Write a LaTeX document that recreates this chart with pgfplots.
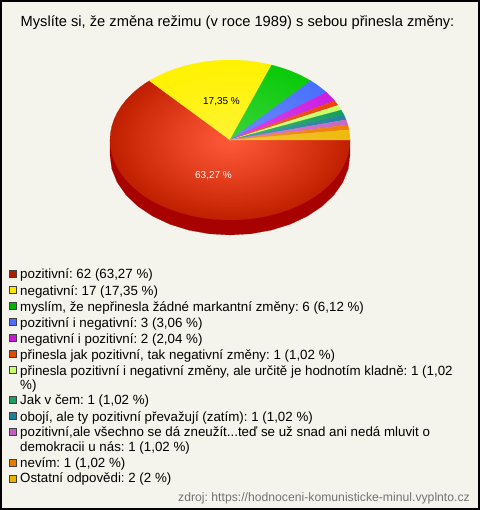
\documentclass[border=0pt]{standalone}
\usepackage{fontspec}
\setmainfont{Liberation Sans}
\usepackage{pgfplots}
\pgfplotsset{compat=1.18}
\usetikzlibrary{fadings}
\frenchspacing
\definecolor{bg}{RGB}{245,244,236}
\definecolor{c1}{RGB}{192,32,0}
\definecolor{redglow}{RGB}{255,50,10}
\definecolor{c2}{RGB}{255,242,0}
\definecolor{c3}{RGB}{10,202,10}
\definecolor{c4}{RGB}{72,112,255}
\definecolor{c5}{RGB}{204,30,224}
\definecolor{c6}{RGB}{236,66,10}
\definecolor{c7}{RGB}{198,255,104}
\definecolor{c8}{RGB}{22,160,92}
\definecolor{c9}{RGB}{34,132,154}
\definecolor{c10}{RGB}{198,104,200}
\definecolor{c11}{RGB}{240,126,6}
\definecolor{c12}{RGB}{238,186,10}
\definecolor{k1}{RGB}{176,28,0}
\definecolor{k2}{RGB}{255,230,0}
\definecolor{k3}{RGB}{0,180,0}
\definecolor{k4}{RGB}{77,111,255}
\definecolor{k5}{RGB}{200,25,216}
\definecolor{k6}{RGB}{230,74,0}
\definecolor{k7}{RGB}{196,255,110}
\definecolor{k8}{RGB}{26,160,96}
\definecolor{k9}{RGB}{26,127,155}
\definecolor{k10}{RGB}{192,96,192}
\definecolor{k11}{RGB}{232,122,0}
\definecolor{k12}{RGB}{232,180,0}
\definecolor{side}{RGB}{168,2,0}
\pgfdeclareradialshading{glowsh}{\pgfpointorigin}{color(0bp)=(pgftransparent!80); color(25bp)=(pgftransparent!100); color(50bp)=(pgftransparent!100)}
\pgfdeclarefading{glow}{\pgfuseshading{glowsh}}
\pgfdeclareradialshading{redsh}{\pgfpointorigin}{color(0bp)=(pgftransparent!0); color(25bp)=(pgftransparent!100); color(50bp)=(pgftransparent!100)}
\pgfdeclarefading{redfade}{\pgfuseshading{redsh}}
\pgfplotsset{
  table/pie/.style={row sep=\\, x expr=230+120*\thisrow{r}*cos(\thisrow{t}), y expr=140-80*\thisrow{r}*sin(\thisrow{t})+\thisrow{d}},
  w/.style={fill=#1, draw=#1, line width=0.15pt, forget plot},
  lg/.style={only marks, forget plot, mark=square*, mark size=3.6bp, mark options={fill=#1, draw=black!75, line width=0.8bp}}
}
\newcommand{\lt}[2]{\node[anchor=base west, inner sep=0, font=\fontsize{13.33bp}{13.33bp}\selectfont] at (axis cs:20,#1) {#2};}
\begin{document}
\begin{tikzpicture}
\begin{axis}[scale only axis, width=480bp, height=510bp, xmin=0, xmax=480, ymin=0, ymax=510, y dir=reverse, hide axis, clip=false]
\fill[bg, draw=black, line width=2bp] (axis cs:1,1) rectangle (axis cs:479,509);
% side of the pie
\addplot[w=side] table[pie] {t r d\\ 0 1 15\\ -10 1 15\\ -20 1 15\\ -30 1 15\\ -40 1 15\\ -50 1 15\\ -60 1 15\\ -70 1 15\\ -80 1 15\\ -90 1 15\\ -100 1 15\\ -110 1 15\\ -120 1 15\\ -130 1 15\\ -140 1 15\\ -150 1 15\\ -160 1 15\\ -170 1 15\\ -180 1 15\\ -180 1 0\\ 0 1 0\\};
% pozitivní 63,27 %
\addplot[w=c1] table[pie] {t r d\\ 0 0 0\\ 0 1 0\\ -5 1 0\\ -10 1 0\\ -15 1 0\\ -20 1 0\\ -25 1 0\\ -30 1 0\\ -35 1 0\\ -40 1 0\\ -45 1 0\\ -50 1 0\\ -55 1 0\\ -60 1 0\\ -65 1 0\\ -70 1 0\\ -75 1 0\\ -80 1 0\\ -85 1 0\\ -90 1 0\\ -95 1 0\\ -100 1 0\\ -105 1 0\\ -110 1 0\\ -115 1 0\\ -120 1 0\\ -125 1 0\\ -130 1 0\\ -135 1 0\\ -140 1 0\\ -145 1 0\\ -150 1 0\\ -155 1 0\\ -160 1 0\\ -165 1 0\\ -170 1 0\\ -175 1 0\\ -180 1 0\\ -185 1 0\\ -190 1 0\\ -195 1 0\\ -200 1 0\\ -205 1 0\\ -210 1 0\\ -215 1 0\\ -220 1 0\\ -225 1 0\\ -227.8 1 0\\ 0 0 0\\};
\fill[redglow, path fading=redfade] (axis cs:230,140) ellipse [x radius=120bp, y radius=80bp];
% negativní 17,35 %
\addplot[w=c2] table[pie] {t r d\\ 0 0 0\\ 132.2 1 0\\ 127 1 0\\ 122 1 0\\ 117 1 0\\ 112 1 0\\ 107 1 0\\ 102 1 0\\ 97 1 0\\ 92 1 0\\ 87 1 0\\ 82 1 0\\ 77 1 0\\ 72 1 0\\ 69.7 1 0\\ 0 0 0\\};
% myslím 6,12 %
\addplot[w=c3] table[pie] {t r d\\ 0 0 0\\ 69.7 1 0\\ 65 1 0\\ 60 1 0\\ 55 1 0\\ 50 1 0\\ 47.7 1 0\\ 0 0 0\\};
\addplot[w=c4] table[pie] {t r d\\ 0 0 0\\ 47.7 1 0\\ 44 1 0\\ 40 1 0\\ 36.7 1 0\\ 0 0 0\\};
\addplot[w=c5] table[pie] {t r d\\ 0 0 0\\ 36.7 1 0\\ 33 1 0\\ 29.35 1 0\\ 0 0 0\\};
\addplot[w=c6] table[pie] {t r d\\ 0 0 0\\ 29.35 1 0\\ 25.68 1 0\\ 0 0 0\\};
\addplot[w=c7] table[pie] {t r d\\ 0 0 0\\ 25.68 1 0\\ 22.0 1 0\\ 0 0 0\\};
\addplot[w=c8] table[pie] {t r d\\ 0 0 0\\ 22.0 1 0\\ 18.33 1 0\\ 0 0 0\\};
\addplot[w=c9] table[pie] {t r d\\ 0 0 0\\ 18.33 1 0\\ 14.66 1 0\\ 0 0 0\\};
\addplot[w=c10] table[pie] {t r d\\ 0 0 0\\ 14.66 1 0\\ 11.0 1 0\\ 0 0 0\\};
\addplot[w=c11] table[pie] {t r d\\ 0 0 0\\ 11.0 1 0\\ 7.34 1 0\\ 0 0 0\\};
\addplot[w=c12] table[pie] {t r d\\ 0 0 0\\ 7.34 1 0\\ 3.5 1 0\\ 0 1 0\\ 0 0 0\\};
\fill[white, path fading=glow] (axis cs:230,140) ellipse [x radius=120bp, y radius=80bp];
\node[text=white, font=\fontsize{10bp}{10bp}\selectfont, inner sep=0] at (axis cs:213.5,176) {63,27 \%};
\node[text=black, font=\fontsize{10bp}{10bp}\selectfont, inner sep=0] at (axis cs:221.5,102) {17,35 \%};
\node[anchor=base, inner sep=0, font=\fontsize{14.67bp}{14.67bp}\selectfont] at (axis cs:237.5,26.5) {Myslíte si, že změna režimu (v roce 1989) s sebou přinesla změny:};
% legend markers
\addplot[lg=k1] coordinates {(13,274)};
\addplot[lg=k2] coordinates {(13,290)};
\addplot[lg=k3] coordinates {(13,306)};
\addplot[lg=k4] coordinates {(13,322)};
\addplot[lg=k5] coordinates {(13,338)};
\addplot[lg=k6] coordinates {(13,354)};
\addplot[lg=k7] coordinates {(13,370)};
\addplot[lg=k8] coordinates {(13,400)};
\addplot[lg=k9] coordinates {(13,416)};
\addplot[lg=k10] coordinates {(13,432)};
\addplot[lg=k11] coordinates {(13,462.5)};
\addplot[lg=k12] coordinates {(13,478.5)};
\lt{278.7}{pozitivní: 62 (63,27 \%)}
\lt{295}{negativní: 17 (17,35 \%)}
\lt{311}{myslím, že nepřinesla žádné markantní změny: 6 (6,12 \%)}
\lt{327}{pozitivní i negativní: 3 (3,06 \%)}
\lt{343}{negativní i pozitivní: 2 (2,04 \%)}
\lt{359.5}{přinesla jak pozitivní, tak negativní změny: 1 (1,02 \%)}
\lt{375.3}{přinesla pozitivní i negativní změny, ale určitě je hodnotím kladně: 1 (1,02}
\lt{389}{\%)}
\lt{404.5}{Jak v čem: 1 (1,02 \%)}
\lt{421}{obojí, ale ty pozitivní převažují (zatím): 1 (1,02 \%)}
\lt{436.7}{pozitivní,ale všechno se dá zneužít...teď se už snad ani nedá mluvit o}
\lt{451.7}{demokracii u nás: 1 (1,02 \%)}
\lt{467.3}{nevím: 1 (1,02 \%)}
\lt{482.7}{Ostatní odpovědi: 2 (2 \%)}
\node[anchor=base east, inner sep=0, text=black!55, font=\fontsize{12.2bp}{12.2bp}\selectfont] at (axis cs:470,501.7) {zdroj: https://hodnoceni-komunisticke-minul.vyplnto.cz};
\end{axis}
\end{tikzpicture}
\end{document}
